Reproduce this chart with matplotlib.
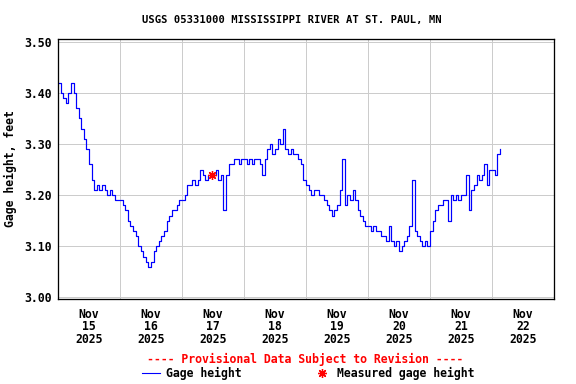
import numpy as np
import pandas as pd
import matplotlib
matplotlib.use("Agg")
import matplotlib.pyplot as plt
import matplotlib.dates as mdates
from matplotlib.lines import Line2D

# hourly gage height (feet)
nov15 = [3.42, 3.40, 3.39, 3.38, 3.40, 3.42, 3.40, 3.37, 3.35, 3.33, 3.31, 3.29,
         3.26, 3.23, 3.21, 3.22, 3.21, 3.22, 3.21, 3.20, 3.21, 3.20, 3.19, 3.19]
nov16 = [3.19, 3.18, 3.17, 3.15, 3.14, 3.13, 3.12, 3.10, 3.09, 3.08, 3.07, 3.06,
         3.07, 3.09, 3.10, 3.11, 3.12, 3.13, 3.15, 3.16, 3.17, 3.17, 3.18, 3.19]
nov17 = [3.19, 3.20, 3.22, 3.22, 3.23, 3.22, 3.23, 3.25, 3.24, 3.23, 3.24, 3.24,
         3.24, 3.25, 3.23, 3.24, 3.17, 3.24, 3.26, 3.26, 3.27, 3.27, 3.26, 3.27]
nov18 = [3.27, 3.26, 3.27, 3.26, 3.27, 3.27, 3.26, 3.24, 3.27, 3.29, 3.30, 3.28,
         3.29, 3.31, 3.30, 3.33, 3.29, 3.28, 3.29, 3.28, 3.28, 3.27, 3.26, 3.23]
nov19 = [3.22, 3.21, 3.20, 3.21, 3.21, 3.20, 3.20, 3.19, 3.18, 3.17, 3.16, 3.17,
         3.18, 3.21, 3.27, 3.18, 3.20, 3.19, 3.21, 3.19, 3.17, 3.16, 3.15, 3.14]
nov20 = [3.14, 3.13, 3.14, 3.13, 3.13, 3.12, 3.12, 3.11, 3.14, 3.11, 3.10, 3.11,
         3.09, 3.10, 3.11, 3.12, 3.14, 3.23, 3.13, 3.12, 3.11, 3.10, 3.11, 3.10]
nov21 = [3.13, 3.15, 3.17, 3.18, 3.18, 3.19, 3.19, 3.15, 3.20, 3.19, 3.20, 3.19,
         3.20, 3.20, 3.24, 3.17, 3.21, 3.22, 3.24, 3.23, 3.24, 3.26, 3.22, 3.25]
nov22 = [3.25, 3.24, 3.28, 3.29]

gage = nov15 + nov16 + nov17 + nov18 + nov19 + nov20 + nov21 + nov22
times = pd.date_range("2025-11-15 00:00", periods=len(gage), freq="h")

# field measurement
meas_time = [pd.Timestamp("2025-11-17 11:40")]
meas_val = [3.24]

day_labels = ["Nov\n15\n2025", "Nov\n16\n2025", "Nov\n17\n2025", "Nov\n18\n2025",
              "Nov\n19\n2025", "Nov\n20\n2025", "Nov\n21\n2025", "Nov\n22\n2025"]

plt.rcParams["font.family"] = "DejaVu Sans Mono"
plt.rcParams["font.weight"] = "bold"
fs = 11.5

fig = plt.figure(figsize=(8, 384 / 72), dpi=72)
ax = fig.add_axes([58 / 576, 1 - 299 / 384, 496 / 576, 260 / 384])

ax.plot(times, gage, color="#0000ff", lw=1.2, drawstyle="steps-post")
ax.plot(meas_time, meas_val, ls="none", marker=(8, 2, 0), ms=9, mew=1.3,
        color="red")

ax.set_xlim(pd.Timestamp("2025-11-15"), pd.Timestamp("2025-11-23"))
ax.set_ylim(2.997, 3.505)
ax.set_yticks([3.0, 3.1, 3.2, 3.3, 3.4, 3.5])
ax.set_yticklabels(["3.00", "3.10", "3.20", "3.30", "3.40", "3.50"], fontsize=fs,
                   fontweight="bold")

noon = pd.date_range("2025-11-15 12:00", periods=8, freq="D")
ax.set_xticks(noon)
ax.set_xticklabels(day_labels, fontsize=fs, fontweight="bold", linespacing=0.95)
ax.set_xticks(pd.date_range("2025-11-16", periods=7, freq="D"), minor=True)
ax.tick_params(axis="both", which="both", length=0)
ax.tick_params(axis="x", pad=9)
ax.tick_params(axis="y", pad=6)

ax.grid(True, axis="y", color="#cccccc", lw=1)
ax.grid(True, axis="x", which="minor", color="#cccccc", lw=1)
ax.grid(False, axis="x", which="major")
for s in ax.spines.values():
    s.set_linewidth(1.3)

ax.set_ylabel("Gage height, feet", fontsize=fs, fontweight="bold", labelpad=7)

fig.text(292 / 576, 1 - 20 / 384, "USGS 05331000 MISSISSIPPI RIVER AT ST. PAUL, MN",
         ha="center", va="center", fontsize=10.5, fontweight="bold")
fig.text(305 / 576, 1 - 359 / 384, "---- Provisional Data Subject to Revision ----",
         ha="center", va="center", fontsize=fs, fontweight="bold", color="red")

ly = 1 - 373 / 384
fig.add_artist(Line2D([142 / 576, 160 / 576], [ly, ly], color="#0000ff", lw=1.1))
fig.text(166 / 576, ly, "Gage height", ha="left", va="center", fontsize=fs,
         fontweight="bold")
fig.add_artist(Line2D([322 / 576], [ly], ls="none", marker=(8, 2, 0), ms=9,
                      mew=1.3, color="red"))
fig.text(337 / 576, ly, "Measured gage height", ha="left", va="center",
         fontsize=fs, fontweight="bold")

fig.savefig("out.png", dpi=72)
